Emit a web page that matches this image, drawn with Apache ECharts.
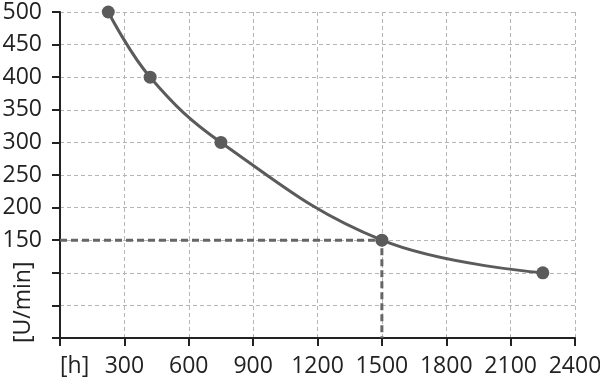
<!DOCTYPE html>
<html><head><meta charset="utf-8">
<script src="https://cdn.jsdelivr.net/npm/echarts@6/dist/echarts.min.js"></script>
<style>html,body{margin:0;padding:0;background:#fff}#c{width:600px;height:384px}</style>
</head><body><div id="c"></div>
<script>
var hours = [225, 420, 750, 1500, 2250];
var rpm = [500, 400, 300, 150, 100];
var refX = [0, 1500, 1500];
var refY = [150, 150, 0];
var xUnit = '[h]';
var yUnit = '[U/min]';
var hiddenYLabels = [0, 50, 100];

var chart = echarts.init(document.getElementById('c'));
var font = 'Open Sans';
chart.setOption({
  animation: false,
  grid: {left: 60, top: 12, right: 25, bottom: 46, outerBoundsMode: 'none', containLabel: false},
  xAxis: {
    type: 'value', min: 0, max: 2400, interval: 300,
    axisLine: {lineStyle: {color: '#222', width: 2}},
    axisTick: {show: true, length: 8, lineStyle: {color: '#222', width: 2}},
    axisLabel: {color: '#222', fontSize: 23, fontFamily: font, margin: 17,
      alignMinLabel: 'left',
      formatter: function (v) { return v === 0 ? xUnit : String(v); }},
    splitLine: {show: true, lineStyle: {color: '#b5b5b5', type: [4, 3], width: 1}}
  },
  yAxis: {
    type: 'value', min: 0, max: 500, interval: 50,
    axisLine: {show: true, lineStyle: {color: '#222', width: 2}},
    axisTick: {show: true, length: 8, lineStyle: {color: '#222', width: 2}},
    axisLabel: {color: '#222', fontSize: 23, fontFamily: font, margin: 18,
      formatter: function (v) { return hiddenYLabels.indexOf(v) >= 0 ? '' : String(v); }},
    splitLine: {show: true, lineStyle: {color: '#b5b5b5', type: [4, 3], width: 1}}
  },
  graphic: [{
    type: 'text', x: 12, y: 343, rotation: Math.PI / 2,
    style: {text: yUnit, fill: '#222', fontSize: 23, fontFamily: font}
  }],
  series: [{
    type: 'line',
    data: refX.map(function (x, i) { return [x, refY[i]]; }),
    symbol: 'none',
    lineStyle: {color: '#666', width: 3, type: [7, 4]},
    z: 2
  }, {
    type: 'line',
    data: hours.map(function (x, i) { return [x, rpm[i]]; }),
    smooth: 0.4,
    symbol: 'circle', symbolSize: 13,
    itemStyle: {color: '#5b5b5b'},
    lineStyle: {color: '#5b5b5b', width: 3},
    z: 3
  }]
});
</script></body></html>
